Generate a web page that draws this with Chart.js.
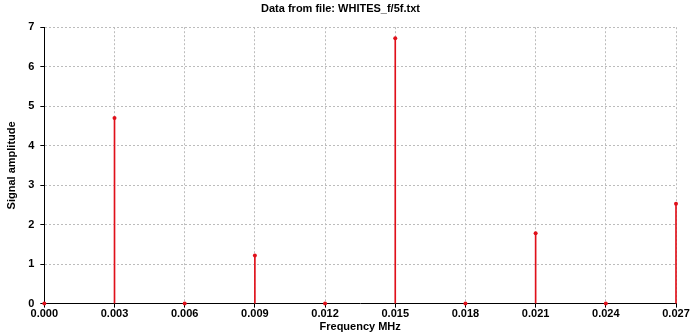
<!DOCTYPE html>
<html>
<head>
<meta charset="utf-8">
<script src="https://cdn.jsdelivr.net/npm/chart.js@4/dist/chart.umd.min.js"></script>
<style>
  html, body { margin: 0; padding: 0; background: #ffffff; }
  #box { width: 700px; height: 336px; position: relative; }
</style>
</head>
<body>
<div id="box"><canvas id="grafico"></canvas></div>
<script>
/* dados */
const frequencias = [0.000, 0.003, 0.006, 0.009, 0.012, 0.015, 0.018, 0.021, 0.024, 0.027];
const amplitudes = [0, 4.70, 0, 1.22, 0, 6.72, 0, 1.78, 0, 2.53];
const ticksX = [0.000, 0.003, 0.006, 0.009, 0.012, 0.015, 0.018, 0.021, 0.024, 0.027];
const ticksY = [0, 1, 2, 3, 4, 5, 6, 7];

const pontos = frequencias.map((f, i) => ({ x: f, y: amplitudes[i] }));

const fonte = { family: 'Liberation Sans, Arial, sans-serif', size: 11, weight: 'bold' };
const vermelho = '#e0101a';

new Chart(document.getElementById('grafico'), {
  type: 'bar',
  data: {
    datasets: [
      {
        type: 'scatter',
        data: pontos,
        pointRadius: 2,
        pointBackgroundColor: vermelho,
        pointBorderColor: vermelho,
        pointBorderWidth: 0,
        clip: false
      },
      {
        type: 'bar',
        data: pontos,
        backgroundColor: vermelho,
        borderWidth: 0,
        barThickness: 1,
        clip: false
      }
    ]
  },
  options: {
    responsive: true,
    maintainAspectRatio: false,
    animation: false,
    layout: { padding: { left: 5, right: 24, top: 2, bottom: 2 } },
    plugins: {
      legend: { display: false },
      tooltip: { enabled: false },
      title: {
        display: true,
        text: 'Data from file: WHITES_f/5f.txt',
        color: '#000',
        font: fonte,
        padding: { top: 0, bottom: 12 }
      }
    },
    scales: {
      x: {
        type: 'linear',
        min: 0,
        max: 0.027,
        offset: false,
        afterBuildTicks: (escala) => { escala.ticks = ticksX.map(v => ({ value: v })); },
        ticks: {
          color: '#000',
          font: fonte,
          padding: 0,
          maxRotation: 0,
          callback: (v) => Number(v).toFixed(3)
        },
        grid: {
          offset: false,
          color: '#bcbcbc',
          tickColor: '#000',
          tickLength: 4
        },
        border: { color: '#000', width: 1, dash: [2, 2] },
        title: {
          display: true,
          text: 'Frequency MHz',
          color: '#000',
          font: fonte,
          padding: { top: 0, bottom: 0 }
        }
      },
      y: {
        min: 0,
        max: 7,
        afterBuildTicks: (escala) => { escala.ticks = ticksY.map(v => ({ value: v })); },
        ticks: { color: '#000', font: fonte, padding: 6 },
        grid: {
          color: '#bcbcbc',
          tickColor: '#000',
          tickLength: 4
        },
        border: { color: '#000', width: 1, dash: [2, 2] },
        title: {
          display: true,
          text: 'Signal amplitude',
          color: '#000',
          font: fonte,
          padding: { top: 0, bottom: 4 }
        }
      }
    }
  }
});
</script>
</body>
</html>
